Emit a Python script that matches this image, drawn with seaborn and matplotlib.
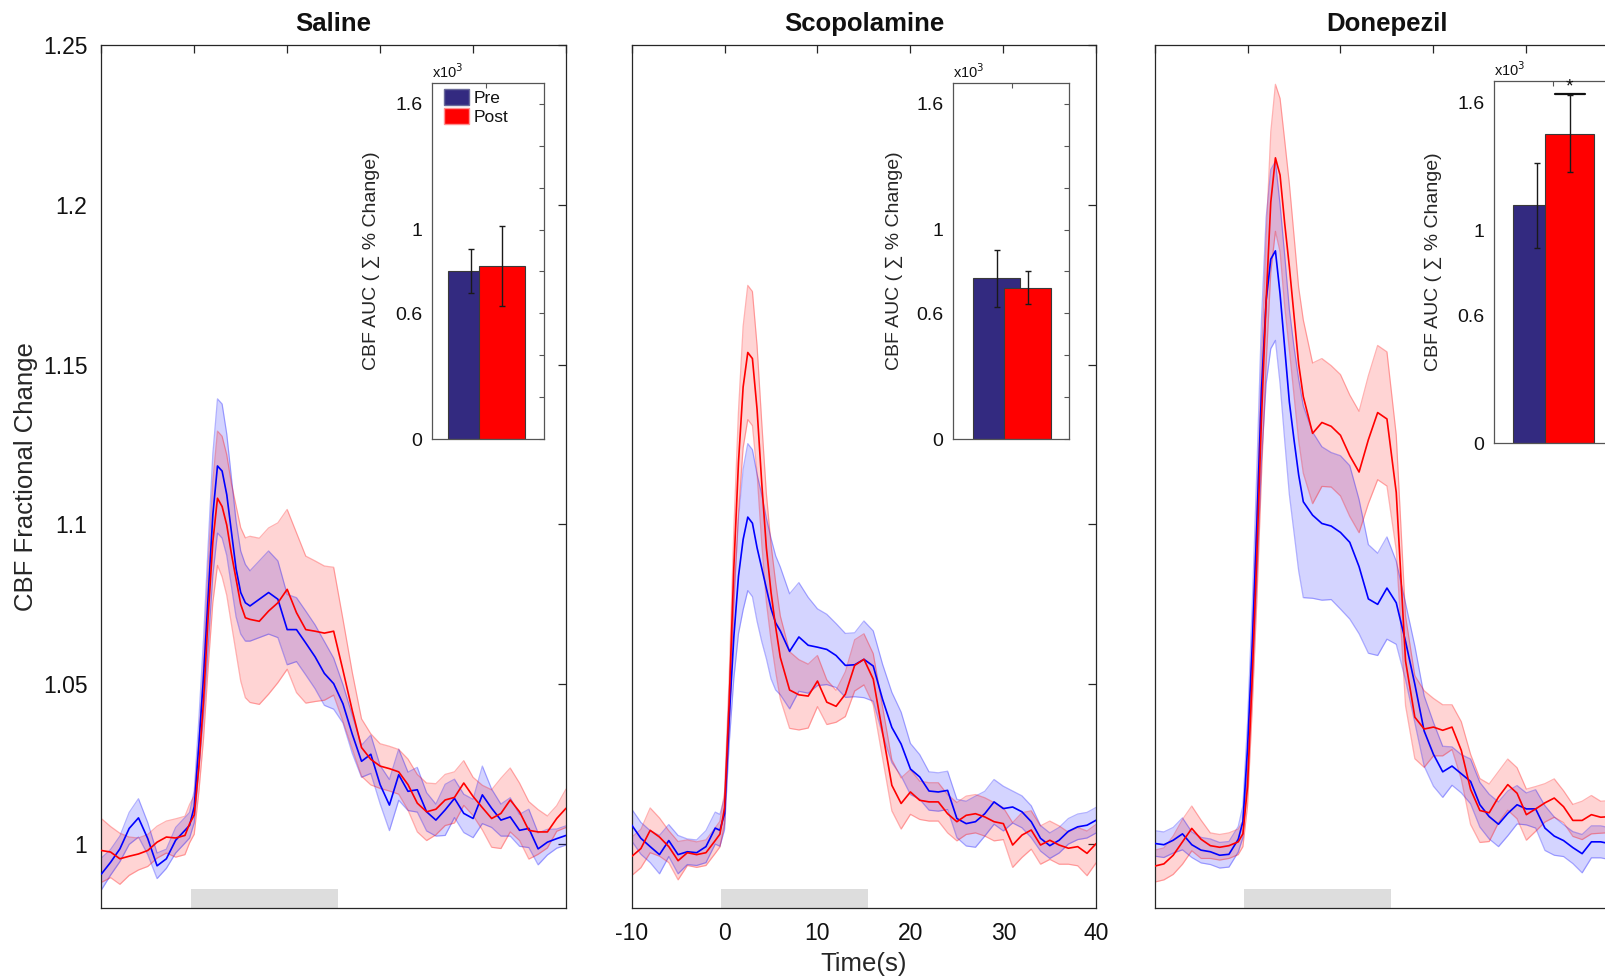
import matplotlib
matplotlib.use("Agg")
import matplotlib.pyplot as plt
from matplotlib.patches import Patch
import seaborn as sns

# ---------------- data ----------------
time_s = [-10, -9, -8, -7, -6, -5, -4, -3, -2, -1,
          -0.5, 0, 0.5, 1, 1.5, 2, 2.5, 3, 3.5, 4, 4.5, 5, 5.5,
          6, 7, 8, 9, 10, 11, 12, 13, 14, 15,
          16, 17, 18, 19, 20, 21, 22, 23, 24, 25, 26, 27, 28, 29, 30, 31, 32, 33, 34, 35, 36, 37, 38, 39, 40]

saline_pre_mean = [0.9906, 0.9943, 0.9985, 1.0049, 1.0082, 1.0017, 0.9932, 0.9954, 1.0012, 1.0043,
                   1.0059, 1.0117, 1.0312, 1.0523, 1.0776, 1.1030, 1.1183, 1.1167, 1.1093, 1.0977, 1.0861, 1.0787, 1.0755,
                   1.0745, 1.0766, 1.0787, 1.0766, 1.0671, 1.0671, 1.0629, 1.0586, 1.0534, 1.0502,
                   1.0439, 1.0344, 1.0259, 1.0281, 1.0186, 1.0122, 1.0217, 1.0165, 1.0170, 1.0101, 1.0075, 1.0107, 1.0143,
                   1.0096, 1.0080, 1.0154, 1.0112, 1.0075, 1.0085, 1.0043, 1.0049, 0.9985, 1.0006, 1.0017, 1.0027]
saline_pre_sem = [0.005, 0.004, 0.004, 0.005, 0.006, 0.005, 0.004, 0.003, 0.004, 0.004,
                  0.004, 0.005, 0.008, 0.012, 0.016, 0.019, 0.021, 0.021, 0.019, 0.017, 0.015, 0.013, 0.012,
                  0.011, 0.012, 0.013, 0.012, 0.011, 0.010, 0.010, 0.010, 0.010, 0.008,
                  0.006, 0.006, 0.005, 0.006, 0.006, 0.008, 0.008, 0.006, 0.007, 0.006, 0.005, 0.008, 0.006,
                  0.006, 0.006, 0.009, 0.006, 0.005, 0.006, 0.005, 0.006, 0.005, 0.004, 0.003, 0.003]
saline_post_mean = [0.9980, 0.9975, 0.9954, 0.9962, 0.9969, 0.9980, 1.0006, 1.0022, 1.0019, 1.0027,
                    1.0064, 1.0091, 1.0244, 1.0449, 1.0713, 1.0945, 1.1082, 1.1056, 1.0998, 1.0908, 1.0829, 1.0750, 1.0708,
                    1.0703, 1.0697, 1.0729, 1.0755, 1.0797, 1.0724, 1.0671, 1.0666, 1.0660, 1.0666,
                    1.0544, 1.0418, 1.0302, 1.0265, 1.0244, 1.0236, 1.0226, 1.0186, 1.0128, 1.0101, 1.0109, 1.0138, 1.0146,
                    1.0191, 1.0149, 1.0114, 1.0080, 1.0096, 1.0138, 1.0101, 1.0043, 1.0038, 1.0038, 1.0080, 1.0112]
saline_post_sem = [0.010, 0.008, 0.008, 0.006, 0.005, 0.005, 0.005, 0.005, 0.006, 0.006,
                   0.006, 0.006, 0.008, 0.012, 0.016, 0.019, 0.021, 0.022, 0.022, 0.022, 0.023, 0.024, 0.025,
                   0.026, 0.026, 0.026, 0.025, 0.025, 0.025, 0.023, 0.022, 0.021, 0.020,
                   0.016, 0.012, 0.009, 0.008, 0.007, 0.007, 0.007, 0.008, 0.009, 0.009, 0.008, 0.008, 0.008,
                   0.007, 0.006, 0.007, 0.009, 0.011, 0.010, 0.009, 0.009, 0.007, 0.005, 0.004, 0.006]

scop_pre_mean = [1.0060, 1.0018, 0.9992, 0.9967, 1.0011, 0.9967, 0.9976, 0.9973, 0.9992, 1.0050,
                 1.0043, 1.0095, 1.0394, 1.0648, 1.0838, 1.0953, 1.1023, 1.1004, 1.0927, 1.0864, 1.0800, 1.0737, 1.0692,
                 1.0667, 1.0603, 1.0648, 1.0622, 1.0616, 1.0609, 1.0590, 1.0559, 1.0561, 1.0578,
                 1.0557, 1.0453, 1.0365, 1.0313, 1.0235, 1.0210, 1.0166, 1.0163, 1.0168, 1.0080, 1.0064, 1.0070, 1.0095,
                 1.0132, 1.0111, 1.0116, 1.0101, 1.0070, 1.0018, 0.9995, 1.0012, 1.0040, 1.0054, 1.0059, 1.0075]
scop_pre_sem = [0.005, 0.005, 0.005, 0.006, 0.005, 0.006, 0.004, 0.004, 0.005, 0.005,
                0.005, 0.005, 0.008, 0.013, 0.018, 0.022, 0.023, 0.023, 0.023, 0.023, 0.022, 0.022, 0.021,
                0.020, 0.018, 0.017, 0.015, 0.012, 0.011, 0.010, 0.010, 0.010, 0.012,
                0.011, 0.011, 0.011, 0.010, 0.008, 0.007, 0.006, 0.006, 0.006, 0.006, 0.007, 0.008, 0.007,
                0.007, 0.007, 0.005, 0.005, 0.005, 0.004, 0.004, 0.004, 0.004, 0.004, 0.004, 0.004]
scop_post_mean = [0.9961, 0.9986, 1.0043, 1.0022, 0.9992, 0.9948, 0.9973, 0.9967, 0.9973, 1.0011,
                  1.0031, 1.0113, 1.0444, 1.0864, 1.1195, 1.1430, 1.1538, 1.1519, 1.1360, 1.1131, 1.0927, 1.0788, 1.0679,
                  1.0584, 1.0482, 1.0467, 1.0463, 1.0510, 1.0444, 1.0431, 1.0469, 1.0559, 1.0578,
                  1.0516, 1.0350, 1.0184, 1.0127, 1.0163, 1.0137, 1.0132, 1.0132, 1.0095, 1.0070, 1.0090, 1.0095, 1.0085,
                  1.0070, 1.0064, 0.9997, 1.0028, 1.0044, 0.9997, 1.0012, 0.9997, 0.9987, 0.9992, 0.9971, 1.0002]
scop_post_sem = [0.006, 0.006, 0.007, 0.006, 0.005, 0.006, 0.004, 0.004, 0.004, 0.004,
                 0.004, 0.005, 0.008, 0.012, 0.016, 0.019, 0.021, 0.021, 0.020, 0.019, 0.017, 0.015, 0.014,
                 0.013, 0.012, 0.011, 0.010, 0.008, 0.007, 0.005, 0.007, 0.008, 0.008,
                 0.008, 0.008, 0.008, 0.008, 0.007, 0.006, 0.006, 0.006, 0.006, 0.006, 0.006, 0.006, 0.006,
                 0.006, 0.005, 0.007, 0.007, 0.006, 0.006, 0.006, 0.006, 0.005, 0.006, 0.007, 0.006]

don_pre_mean = [1.0002, 0.9998, 1.0012, 1.0032, 0.9998, 0.9981, 0.9976, 0.9965, 0.9968, 1.0015,
                1.0070, 1.0300, 1.0620, 1.1000, 1.1420, 1.1700, 1.1830, 1.1856, 1.1721, 1.1552, 1.1383, 1.1265, 1.1155,
                1.1071, 1.1029, 1.1003, 1.0995, 1.0975, 1.0944, 1.0868, 1.0767, 1.0750, 1.0801,
                1.0755, 1.0634, 1.0500, 1.0354, 1.0281, 1.0226, 1.0244, 1.0220, 1.0196, 1.0123, 1.0086, 1.0062, 1.0096,
                1.0123, 1.0110, 1.0110, 1.0050, 1.0025, 1.0011, 0.9989, 0.9970, 1.0007, 1.0007, 1.0001, 1.0001]
don_pre_sem = [0.004, 0.004, 0.004, 0.005, 0.004, 0.004, 0.004, 0.004, 0.004, 0.004,
               0.005, 0.008, 0.012, 0.017, 0.022, 0.026, 0.028, 0.028, 0.028, 0.029, 0.029, 0.029, 0.030,
               0.030, 0.026, 0.024, 0.023, 0.024, 0.024, 0.021, 0.017, 0.016, 0.016,
               0.013, 0.012, 0.012, 0.011, 0.010, 0.008, 0.006, 0.006, 0.007, 0.007, 0.007, 0.007, 0.007,
               0.006, 0.005, 0.006, 0.007, 0.006, 0.005, 0.005, 0.006, 0.005, 0.005, 0.005, 0.005]
don_post_mean = [0.9931, 0.9938, 0.9965, 1.0007, 1.0049, 1.0015, 0.9995, 0.9990, 0.9995, 1.0007,
                 1.0032, 1.0180, 1.0520, 1.0900, 1.1330, 1.1700, 1.2008, 1.2147, 1.2093, 1.1941, 1.1806, 1.1654, 1.1502,
                 1.1400, 1.1285, 1.1319, 1.1307, 1.1279, 1.1215, 1.1164, 1.1265, 1.1350, 1.1330,
                 1.1100, 1.0573, 1.0397, 1.0360, 1.0366, 1.0356, 1.0366, 1.0293, 1.0171, 1.0105, 1.0098, 1.0147, 1.0186,
                 1.0159, 1.0092, 1.0110, 1.0129, 1.0144, 1.0117, 1.0074, 1.0074, 1.0092, 1.0084, 1.0086, 1.0086]
don_post_sem = [0.005, 0.005, 0.006, 0.007, 0.007, 0.006, 0.004, 0.004, 0.004, 0.004,
                0.004, 0.006, 0.010, 0.014, 0.018, 0.020, 0.022, 0.023, 0.024, 0.026, 0.026, 0.025, 0.024,
                0.024, 0.022, 0.020, 0.019, 0.019, 0.019, 0.019, 0.020, 0.021, 0.021,
                0.018, 0.014, 0.013, 0.012, 0.009, 0.008, 0.007, 0.009, 0.011, 0.010, 0.009, 0.008, 0.008,
                0.008, 0.008, 0.007, 0.006, 0.006, 0.005, 0.005, 0.006, 0.006, 0.005, 0.005, 0.005]

conditions = ["Saline", "Scopolamine", "Donepezil"]
groups = ["Pre", "Post"]

# AUC inset bars (x10^3)
auc_pre = [0.800, 0.767, 1.117]
auc_pre_err = [0.105, 0.135, 0.200]
auc_post = [0.827, 0.722, 1.453]
auc_post_err = [0.190, 0.078, 0.181]
sig_span = [1.55, 2.45]   # significance bar, Donepezil inset
sig_level = 1.64

stim_window = [-0.35, 15.43]
stim_band = [0.98, 0.9861]

main_yticks = [1.0, 1.05, 1.10, 1.15, 1.20, 1.25]
main_yticklabels = ["1", "1.05", "1.1", "1.15", "1.2", "1.25"]
main_xticks = [-10, 0, 10, 20, 30, 40]
main_xticklabels = ["-10", "0", "10", "20", "30", "40"]
inset_yticks = [0, 0.2, 0.4, 0.6, 0.8, 1.0, 1.2, 1.4, 1.6]
inset_yticklabels = ["0", "", "", "0.6", "", "1", "", "", "1.6"]

series = {
    "Saline": (saline_pre_mean, saline_pre_sem, saline_post_mean, saline_post_sem),
    "Scopolamine": (scop_pre_mean, scop_pre_sem, scop_post_mean, scop_post_sem),
    "Donepezil": (don_pre_mean, don_pre_sem, don_post_mean, don_post_sem),
}

# ---------------- style ----------------
sns.set_theme(style="white")
plt.rcParams["font.family"] = ["Liberation Sans", "DejaVu Sans"]
plt.rcParams["axes.edgecolor"] = "#262626"
plt.rcParams["axes.linewidth"] = 0.9
plt.rcParams["text.color"] = "#111111"

PRE_LINE, POST_LINE = "#0000ff", "#ff0000"
PRE_BAR, POST_BAR = "#332a80", "#ff0000"

W, H = 1605, 977
fig = plt.figure(figsize=(W / 100, H / 100), dpi=100)


def box(x0, y0, x1, y1):
    return [x0 / W, 1 - y1 / H, (x1 - x0) / W, (y1 - y0) / H]


main_boxes = [(101.3, 45.0, 566.0, 908.0), (631.6, 45.0, 1096.3, 908.0), (1154.6, 45.0, 1619.3, 908.0)]
inset_boxes = [(432, 83, 544, 439), (953, 83, 1069, 439), (1494, 81, 1612, 443)]
inset_xlims = [(-0.26, 3.37), (-0.40, 3.32), (-0.32, 3.29)]
inset_ylabel_x = [-0.467, -0.433, -0.44]

for i, cond in enumerate(conditions):
    pre_m, pre_s, post_m, post_s = series[cond]
    ax = fig.add_axes(box(*main_boxes[i]))
    ax.set_xlim(-10, 40)
    ax.set_ylim(0.98, 1.25)

    ax.fill_between(stim_window, stim_band[0], stim_band[1], color="#dddddd", lw=0, zorder=0.5)

    for m, s, c in ((pre_m, pre_s, PRE_LINE), (post_m, post_s, POST_LINE)):
        lo = [a - b for a, b in zip(m, s)]
        hi = [a + b for a, b in zip(m, s)]
        ax.fill_between(time_s, lo, hi, facecolor=c, alpha=0.17, lw=0, zorder=1)
        sns.lineplot(x=time_s, y=lo, ax=ax, color=c, alpha=0.3, linewidth=0.9, errorbar=None, zorder=1.5)
        sns.lineplot(x=time_s, y=hi, ax=ax, color=c, alpha=0.3, linewidth=0.9, errorbar=None, zorder=1.5)
    sns.lineplot(x=time_s, y=pre_m, ax=ax, color=PRE_LINE, linewidth=1.2, errorbar=None, zorder=3)
    sns.lineplot(x=time_s, y=post_m, ax=ax, color=POST_LINE, linewidth=1.2, errorbar=None, zorder=3)

    ax.set_xticks(main_xticks)
    ax.set_yticks(main_yticks)
    ax.set_xticklabels(main_xticklabels if i == 1 else [""] * len(main_xticks))
    ax.set_yticklabels(main_yticklabels if i == 0 else [""] * len(main_yticks))
    ax.tick_params(direction="in", length=6, width=0.9, top=True, right=True,
                   labelsize=16.5, pad=10, colors="#262626", labelcolor="#111111")
    for sp in ax.spines.values():
        sp.set_visible(True)
        sp.set_color("#262626")
    ax.set_title(cond, fontsize=18.5, fontweight="bold", pad=10)
    if i == 0:
        ax.set_ylabel("CBF Fractional Change", fontsize=18.5)
        ax.yaxis.set_label_coords(-0.136, 0.5)
    else:
        ax.set_ylabel("")
    if i == 1:
        ax.set_xlabel("Time(s)", fontsize=18.5, labelpad=5)
    else:
        ax.set_xlabel("")

    # ---- inset bar chart ----
    axi = fig.add_axes(box(*inset_boxes[i]))
    axi.set_facecolor("white")
    axi.bar([1, 2], [auc_pre[i], auc_post[i]], width=1.5, color=[PRE_BAR, POST_BAR],
            edgecolor="#3a3a3a", linewidth=0.8, zorder=2)
    axi.errorbar([1, 2], [auc_pre[i], auc_post[i]], yerr=[auc_pre_err[i], auc_post_err[i]],
                 fmt="none", ecolor="#1a1a1a", elinewidth=1.0, capsize=2.5, capthick=1.0, zorder=3)
    axi.set_xlim(*inset_xlims[i])
    axi.set_ylim(0, 1.70)
    axi.set_xticks([1.5])
    axi.set_xticklabels([""])
    axi.set_yticks(inset_yticks)
    axi.set_yticklabels(inset_yticklabels)
    axi.tick_params(direction="in", length=3.5, width=0.8, top=True, right=True,
                    labelsize=14, pad=7, colors="#555555", labelcolor="#111111")
    for sp in axi.spines.values():
        sp.set_visible(True)
        sp.set_color("#555555")
        sp.set_linewidth(0.9)
    axi.set_ylabel("CBF AUC ( \u2211 % Change)", fontsize=14,
                   family=["Liberation Sans", "DejaVu Sans"])
    axi.yaxis.set_label_coords(inset_ylabel_x[i], 0.5)
    axi.text(0.0, 1.005, "x10$^3$", transform=axi.transAxes, fontsize=10.5,
             ha="left", va="bottom")
    if i == 0:
        handles = [Patch(facecolor=PRE_BAR, edgecolor="#6a6a9a"),
                   Patch(facecolor=POST_BAR, edgecolor="#ff9090")]
        axi.legend(handles, groups, loc="upper left", bbox_to_anchor=(0.05, 1.0),
                   frameon=False, fontsize=12.5, handlelength=1.45, handleheight=1.05,
                   labelspacing=0.1, handletextpad=0.3, borderpad=0.25, borderaxespad=0.1)
    if i == 2:
        axi.plot(sig_span, [sig_level, sig_level], color="#111111", lw=1.6, zorder=4,
                 clip_on=False)
        axi.text(sum(sig_span) / 2, sig_level + 0.03, "*", ha="center", va="center",
                 fontsize=14, zorder=4)

fig.savefig("out.png", dpi=100)
